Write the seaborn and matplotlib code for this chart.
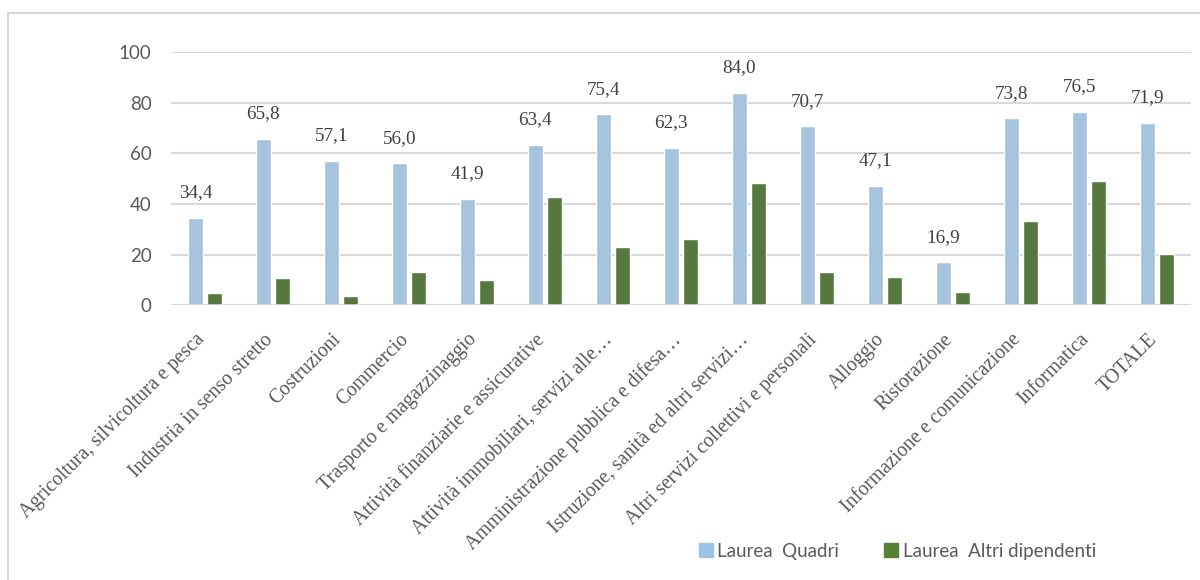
import numpy as np
import matplotlib.pyplot as plt
import matplotlib.transforms as mtransforms
from matplotlib.lines import Line2D
import pandas as pd
import seaborn as sns

settori = ["Agricoltura, silvicoltura e pesca", "Industria in senso stretto", "Costruzioni",
           "Commercio", "Trasporto e magazzinaggio", "Attività finanziarie e assicurative",
           "Attività immobiliari, servizi alle…", "Amministrazione pubblica e difesa…",
           "Istruzione, sanità ed altri servizi…", "Altri servizi collettivi e personali",
           "Alloggio", "Ristorazione", "Informazione e comunicazione", "Informatica", "TOTALE"]
quadri = [34.4, 65.8, 57.1, 56.0, 41.9, 63.4, 75.4, 62.3, 84.0, 70.7, 47.1, 16.9, 73.8, 76.5, 71.9]
altri = [4.6, 10.8, 3.7, 12.9, 9.8, 42.7, 22.9, 26.2, 48.2, 13.0, 11.3, 5.0, 33.1, 48.9, 20.2]
serie = ["Laurea  Quadri", "Laurea  Altri dipendenti"]

df = pd.DataFrame({
    "settore": settori * 2,
    "valore": quadri + altri,
    "serie": [serie[0]] * len(settori) + [serie[1]] * len(settori),
})

sns.set_theme(style="white")
plt.rcParams['font.family'] = ['Lato', 'DejaVu Sans']
colori = {serie[0]: "#9DC3E6", serie[1]: "#548235"}
grigio = "#595959"

fig = plt.figure(figsize=(12, 5.8), dpi=100)
ax = fig.add_axes([0.1425, 0.474, 0.85, 0.436])

sns.barplot(data=df, x="settore", y="valore", hue="serie", palette=colori,
            width=0.57, gap=0.23, order=settori, hue_order=serie, ax=ax, legend=False)

ax.set_ylim(0, 100)
ax.set_xlim(-0.5, len(settori) - 0.5)
ax.set_yticks([0, 20, 40, 60, 80, 100])
ax.yaxis.grid(True, color="#D9D9D9", linewidth=1.5)
ax.set_axisbelow(True)
for s in ax.spines.values():
    s.set_visible(False)
ax.axhline(0, color="#D9D9D9", linewidth=1.8, zorder=1)
ax.tick_params(axis="y", length=0, pad=14, labelsize=13.5, labelcolor=grigio)
ax.tick_params(axis="x", length=0, pad=0)
ax.set_xlabel("")
ax.set_ylabel("")

# etichette asse x ruotate, in serif
ax.set_xticks(range(len(settori)))
ax.set_xticklabels(settori, rotation=45, rotation_mode="anchor", ha="right", va="center",
                   family="Liberation Serif", fontsize=14.2, color=grigio)
offset = mtransforms.ScaledTranslation(-3 / 100, -32 / 100, fig.dpi_scale_trans)
for lab in ax.get_xticklabels():
    lab.set_transform(lab.get_transform() + offset)

# etichette dati sopra le barre "Quadri"
for p in ax.containers[0]:
    h = p.get_height()
    ax.annotate(f"{h:.1f}".replace(".", ","), (p.get_x() + p.get_width() / 2, h),
                xytext=(0, 12), textcoords="offset points", ha="center", va="bottom",
                family="Liberation Serif", fontsize=13.8, color="#404040")

handles = [Line2D([], [], marker="s", linestyle="", markersize=9.5, color=colori[s]) for s in serie]
fig.legend(handles, serie, loc="center", bbox_to_anchor=(0.7475, 0.05), ncol=2, frameon=False,
           fontsize=13.5, labelcolor=grigio, handlelength=0.8, handletextpad=0.2,
           columnspacing=2.4)

# cornice del grafico (solo sopra e a sinistra)
fig.add_artist(Line2D([8 / 1200, 1], [1 - 13 / 580, 1 - 13 / 580], color="#D9D9D9", lw=1.5))
fig.add_artist(Line2D([8 / 1200, 8 / 1200], [0, 1 - 13 / 580], color="#D9D9D9", lw=1.5))

fig.savefig("out.png", dpi=100, facecolor="white")
